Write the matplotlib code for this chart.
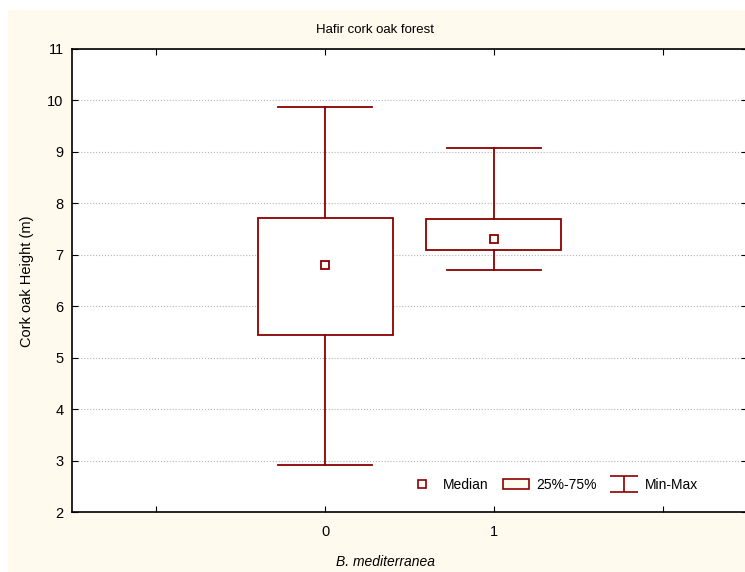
import matplotlib.pyplot as plt
from matplotlib.patches import Patch, Rectangle
from matplotlib.lines import Line2D
from matplotlib.path import Path

plt.rcParams['font.family'] = ['Liberation Sans', 'DejaVu Sans']

groups = [0, 1]
medians = [6.80, 7.30]
q1 = [5.45, 7.09]
q3 = [7.72, 7.70]
mins = [2.92, 6.70]
maxs = [9.88, 9.08]

red = '#8b0000'
cream = '#fff9ee'

fig = plt.figure(figsize=(7.45, 5.72), dpi=100, facecolor='white')
fig.patches.append(Rectangle((8 / 745, 0), 1, 1 - 10 / 572,
                             transform=fig.transFigure, facecolor=cream,
                             edgecolor='none', zorder=-10))

ax = fig.add_axes([72 / 745, 60 / 572, 675 / 745, 463 / 572])
ax.set_facecolor('white')

stats = [dict(med=m, q1=a, q3=b, whislo=lo, whishi=hi, label=str(g))
         for g, m, a, b, lo, hi in zip(groups, medians, q1, q3, mins, maxs)]
ax.bxp(stats, positions=groups, widths=0.8, capwidths=0.56,
       showfliers=False, patch_artist=True,
       boxprops=dict(facecolor='white', edgecolor=red, linewidth=1.3),
       whiskerprops=dict(color=red, linewidth=1.3),
       capprops=dict(color=red, linewidth=1.3),
       medianprops=dict(linestyle='none'))
ax.plot(groups, medians, linestyle='none', marker='s', markersize=6,
        markerfacecolor='white', markeredgecolor=red, markeredgewidth=1.3)

ax.set_xlim(-1.5, 2.5)
ax.set_ylim(2, 11)
ax.set_xticks([-1, 0, 1, 2])
ax.set_xticklabels(['', '0', '1', ''])
ax.set_yticks(range(2, 12))
ax.grid(axis='y', color='#b4b4b4', linestyle=':', linewidth=0.8)
ax.set_axisbelow(True)
ax.tick_params(direction='in', top=True, right=True, length=4,
               labelsize=10.5, colors='black')
ax.tick_params(axis='x', pad=9)
ax.tick_params(axis='y', pad=6)
for s in ax.spines.values():
    s.set_linewidth(1.2)

fig.text(375 / 745, 1 - 30 / 572, 'Hafir cork oak forest', ha='center',
         va='center', fontsize=9.5)
fig.text(386 / 745, 1 - 562 / 572, 'B. mediterranea', ha='center',
         va='center', fontsize=10, style='italic')
fig.text(27 / 745, 1 - 281 / 572, 'Cork oak Height (m)', ha='center',
         va='center', fontsize=10.5, rotation=90)

# "I" shaped symbol for the min-max legend entry
minmax_path = Path([(-1, 0.55), (1, 0.55), (0, 0.55), (0, -0.55),
                    (-1, -0.55), (1, -0.55)],
                   [Path.MOVETO, Path.LINETO, Path.MOVETO, Path.LINETO,
                    Path.MOVETO, Path.LINETO])
h_med = Line2D([], [], linestyle='none', marker='s', markersize=6,
               markerfacecolor='white', markeredgecolor=red, markeredgewidth=1.2)
h_box = Patch(facecolor=cream, edgecolor=red, linewidth=1.2)
h_mm = Line2D([], [], linestyle='none', marker=minmax_path, markersize=20,
              markerfacecolor='none', markeredgecolor=red, markeredgewidth=1.2)
ax.legend([h_med, h_box, h_mm], ['Median', '25%-75%', 'Min-Max'],
          loc='lower left', bbox_to_anchor=(0.481, 0.017), ncol=3, frameon=False,
          fontsize=10, handlelength=1.9, handletextpad=0.5, columnspacing=1.05)

fig.savefig('out.png', dpi=100)
